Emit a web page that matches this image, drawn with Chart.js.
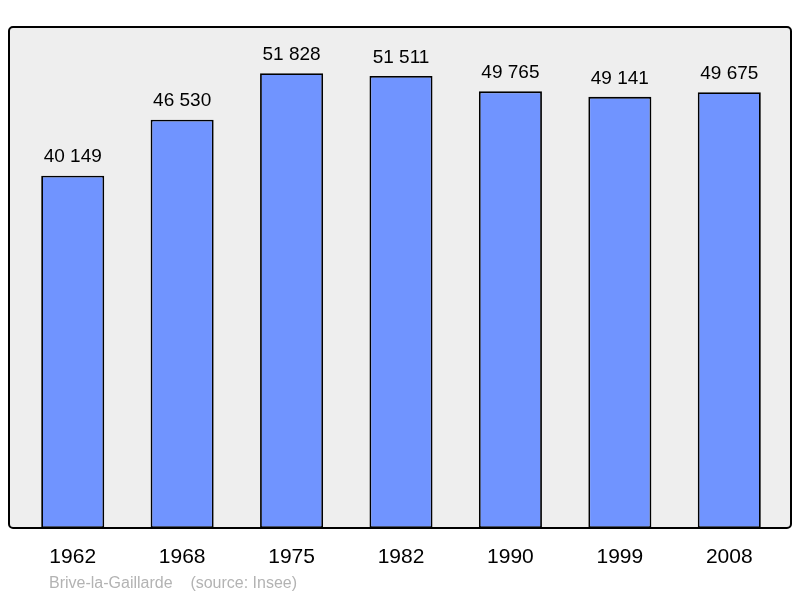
<!DOCTYPE html>
<html>
<head>
<meta charset="utf-8">
<script src="https://cdn.jsdelivr.net/npm/chart.js@4"></script>
<style>
  html, body { margin: 0; padding: 0; background: #fff; }
  #wrap { width: 800px; height: 598px; }
</style>
</head>
<body>
<div id="wrap"><canvas id="chart"></canvas></div>
<script>
const years = ['1962', '1968', '1975', '1982', '1990', '1999', '2008'];
const population = [40149, 46530, 51828, 51511, 49765, 49141, 49675];
const footerText = 'Brive-la-Gaillarde    (source: Insee)';

const fmt = (n) => String(n).replace(/\B(?=(\d{3})+(?!\d))/g, ' ');

// frame is a bit wider than the category band
const frameBox = (a) => ({ x: a.left - 9, y: a.top, w: a.right - a.left + 16, h: a.bottom - a.top });

const framePlugin = {
  id: 'frame',
  beforeDatasetsDraw(chart) {
    const { ctx } = chart;
    const f = frameBox(chart.chartArea);
    ctx.save();
    ctx.beginPath();
    ctx.roundRect(f.x, f.y, f.w, f.h, 4);
    ctx.fillStyle = '#eeeeee';
    ctx.fill();
    ctx.restore();
  },
  afterDatasetsDraw(chart) {
    const { ctx, scales } = chart;
    const f = frameBox(chart.chartArea);
    ctx.save();
    ctx.beginPath();
    ctx.roundRect(f.x, f.y, f.w, f.h, 4);
    ctx.lineWidth = 2;
    ctx.strokeStyle = '#000';
    ctx.stroke();

    ctx.fillStyle = '#000';
    ctx.textAlign = 'center';
    ctx.font = '19px "Liberation Sans", Arial, sans-serif';
    ctx.textBaseline = 'bottom';
    population.forEach((v, i) => {
      const x = scales.x.getPixelForValue(i);
      const y = scales.y.getPixelForValue(v);
      ctx.fillText(fmt(v), x, y - 9);
    });

    ctx.font = '21px "Liberation Sans", Arial, sans-serif';
    ctx.textBaseline = 'middle';
    years.forEach((yr, i) => {
      ctx.fillText(yr, scales.x.getPixelForValue(i), 557);
    });

    ctx.fillStyle = '#b3b3b3';
    ctx.textAlign = 'left';
    ctx.font = '16px "Liberation Sans", Arial, sans-serif';
    ctx.fillText(footerText, 49, 584);
    ctx.restore();
  }
};

new Chart(document.getElementById('chart'), {
  type: 'bar',
  data: {
    labels: years,
    datasets: [{
      data: population,
      backgroundColor: '#7094ff',
      borderColor: '#000',
      borderWidth: 1.8,
      borderSkipped: false,
      categoryPercentage: 1,
      barPercentage: 0.576,
    }],
  },
  options: {
    responsive: true,
    maintainAspectRatio: false,
    animation: false,
    layout: { padding: { left: 18, right: 16, top: 27, bottom: 70 } },
    plugins: { legend: { display: false }, tooltip: { enabled: false } },
    scales: {
      x: { display: false },
      y: { display: false, min: 0, max: 57100 },
    },
  },
  plugins: [framePlugin],
});
</script>
</body>
</html>
